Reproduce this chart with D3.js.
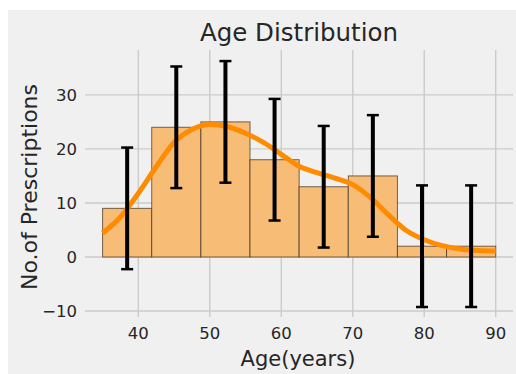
<!DOCTYPE html>
<html lang="en">
  <head>
    <meta charset="utf-8">
    <title>Age Distribution</title>
    <script src="https://cdnjs.cloudflare.com/ajax/libs/d3/7.8.5/d3.min.js"></script>
  </head>
  <style type="text/css">
    body {
      margin: 0;
      background-color: #ffffff;
    }
    svg text {
      font-family: "DejaVu Sans", sans-serif;
      fill: #262626;
    }
    .grid line {
      stroke: #cbcbcb;
      stroke-width: 1.4;
    }
  </style>
  <body>
    <script type="text/javascript">
    // histogram bins (age in years) and counts
    var binEdges = [35, 41.875, 48.75, 55.625, 62.5, 69.375, 76.25, 83.125, 90];
    var counts = [9, 24, 25, 18, 13, 15, 2, 2];
    var errors = [11.25, 11.25, 11.25, 11.25, 11.25, 11.25, 11.25, 11.25];

    // density curve (scaled to counts)
    var kdeAge = [35, 37.5, 40, 42.5, 45, 47.5, 50, 52.5, 55, 57.5, 60, 62.5, 65, 67.5, 70, 72.5, 75, 77.5, 80, 82.5, 85, 87.5, 90];
    var kdeVal = [4.4, 7.4, 11.8, 16.7, 21.2, 23.6, 24.5, 24.1, 22.9, 21.2, 19.0, 16.8, 15.6, 14.6, 13.4, 11.0, 7.8, 4.9, 3.2, 2.1, 1.5, 1.2, 1.1];

    var xTicks = [40, 50, 60, 70, 80, 90];
    var yTicks = [-10, 0, 10, 20, 30];

    var svgWidth = 516;
    var svgHeight = 374;
    var plotLeft = 85, plotRight = 513, plotTop = 50, plotBottom = 317;

    var svg = d3.select("body")
          .append("svg")
          .attr("width", svgWidth)
          .attr("height", svgHeight);

    // grey figure panel
    svg.append("rect")
      .attr("x", 8)
      .attr("y", 10)
      .attr("width", svgWidth - 8)
      .attr("height", svgHeight - 10)
      .attr("fill", "#f0f0f0");

    var x = d3.scaleLinear()
          .domain([32.54, 92.42])
          .range([plotLeft, plotRight]);

    var y = d3.scaleLinear()
          .domain([-11.1, 38.3])
          .range([plotBottom, plotTop]);

    // grid lines
    var grid = svg.append("g").attr("class", "grid");
    grid.selectAll(".vgrid")
      .data(xTicks)
      .enter()
      .append("line")
      .attr("x1", function(d) { return x(d); })
      .attr("x2", function(d) { return x(d); })
      .attr("y1", plotTop)
      .attr("y2", plotBottom);
    grid.selectAll(".hgrid")
      .data(yTicks)
      .enter()
      .append("line")
      .attr("x1", plotLeft)
      .attr("x2", plotRight)
      .attr("y1", function(d) { return y(d); })
      .attr("y2", function(d) { return y(d); });

    // tick labels
    svg.selectAll(".xtick")
      .data(xTicks)
      .enter()
      .append("text")
      .attr("x", function(d) { return x(d); })
      .attr("y", 339)
      .attr("text-anchor", "middle")
      .style("font-size", "16.5px")
      .text(function(d) { return d; });

    svg.selectAll(".ytick")
      .data(yTicks)
      .enter()
      .append("text")
      .attr("x", 77)
      .attr("y", function(d) { return y(d) + 6; })
      .attr("text-anchor", "end")
      .style("font-size", "16.5px")
      .text(function(d) { return d < 0 ? "\u2212" + Math.abs(d) : d; });

    // histogram bars
    svg.selectAll(".bar")
      .data(counts)
      .enter()
      .append("rect")
      .attr("class", "bar")
      .attr("x", function(d, i) { return x(binEdges[i]); })
      .attr("width", function(d, i) { return x(binEdges[i + 1]) - x(binEdges[i]); })
      .attr("y", function(d) { return y(d); })
      .attr("height", function(d) { return y(0) - y(d); })
      .attr("fill", "#f7bd77")
      .attr("stroke", "#3a2c1c")
      .attr("stroke-opacity", 0.7)
      .attr("stroke-width", 1);

    // density line
    var line = d3.line()
          .x(function(d, i) { return x(kdeAge[i]); })
          .y(function(d) { return y(d); })
          .curve(d3.curveMonotoneX);

    svg.append("path")
      .datum(kdeVal)
      .attr("d", line)
      .attr("fill", "none")
      .attr("stroke", "#ff8c00")
      .attr("stroke-width", 5)
      .attr("stroke-linecap", "butt");

    // error bars at bin centres
    var errs = svg.append("g");
    counts.forEach(function(c, i) {
      var cx = x((binEdges[i] + binEdges[i + 1]) / 2);
      errs.append("line")
        .attr("x1", cx).attr("x2", cx)
        .attr("y1", y(c - errors[i]))
        .attr("y2", y(c + errors[i]))
        .attr("stroke", "#000")
        .attr("stroke-width", 4);
      [c - errors[i], c + errors[i]].forEach(function(v) {
        errs.append("line")
          .attr("x1", cx - 6).attr("x2", cx + 6)
          .attr("y1", y(v)).attr("y2", y(v))
          .attr("stroke", "#000")
          .attr("stroke-width", 2.5);
      });
    });

    // titles
    svg.append("text")
      .attr("x", (plotLeft + plotRight) / 2)
      .attr("y", 41)
      .attr("text-anchor", "middle")
      .style("font-size", "24.5px")
      .text("Age Distribution");

    svg.append("text")
      .attr("x", 298)
      .attr("y", 366)
      .attr("text-anchor", "middle")
      .style("font-size", "21px")
      .text("Age(years)");

    svg.append("text")
      .attr("transform", "translate(36.5," + 187 + ") rotate(-90)")
      .attr("text-anchor", "middle")
      .style("font-size", "22px")
      .text("No.of Prescriptions");
    </script>
  </body>
</html>
